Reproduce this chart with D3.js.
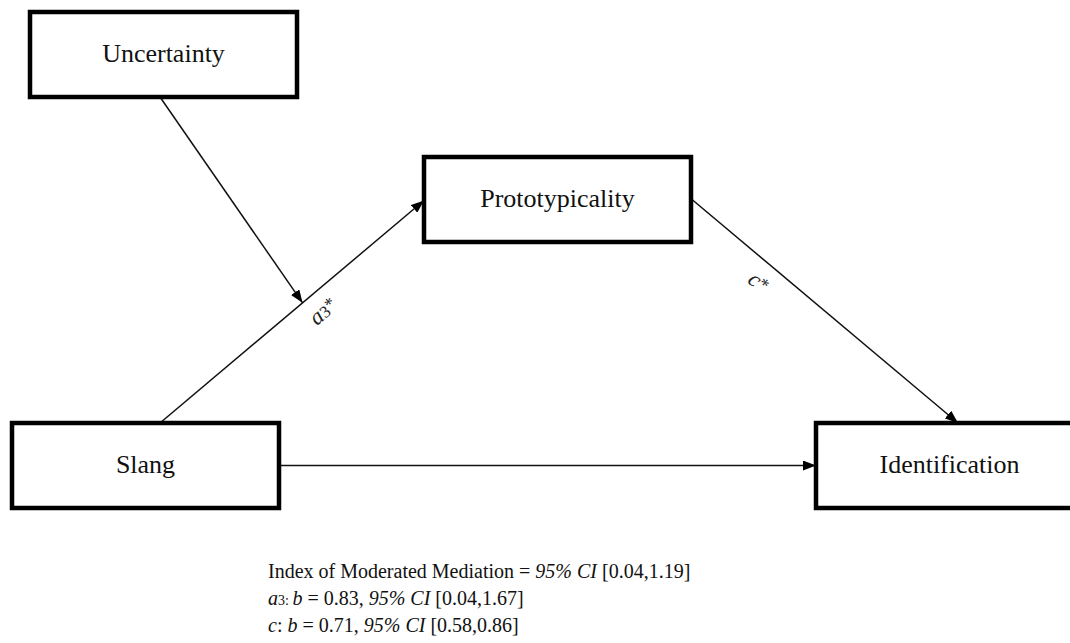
<!DOCTYPE html>
<html>
<head>
<meta charset="utf-8">
<script src="https://cdn.jsdelivr.net/npm/d3@7"></script>
<style>
  body { margin: 0; background: #fff; }
  svg { display: block; font-family: "Liberation Serif", "Times New Roman", serif; }
</style>
</head>
<body>
<div class="svg-div"></div>
<script>
// model variables
const nodeNames = ['Uncertainty', 'Prototypicality', 'Slang', 'Identification']
// paths: from -> to ; 'path:0' means the arrow points at path 0 (moderation)
const pathFrom = ['Slang', 'Prototypicality', 'Slang', 'Uncertainty']
const pathTo = ['Prototypicality', 'Identification', 'Identification', 'path:0']
const pathLabels = ['a3*', 'c*', '', '']
// results lines under the model
const noteLines = [
    [['Index of Moderated Mediation = ', 0], ['95% CI', 1], [' [0.04,1.19]', 0]],
    [['a', 1], ['3: ', 2], ['b', 1], [' = 0.83, ', 0], ['95% CI', 1], [' [0.04,1.67]', 0]],
    [['c', 1], [': ', 0], ['b', 1], [' = 0.71, ', 0], ['95% CI', 1], [' [0.58,0.86]', 0]]
]

// layout (grid units -> pixels)
const w = 1070
const h = 643
const boxW = 267
const boxH = 85
const grid = {
    Uncertainty: [0, 0],
    Prototypicality: [1, 1],
    Slang: [0, 2],
    Identification: [2, 2]
}
const colX = d3.scaleOrdinal().domain([0, 1, 2]).range([30, 424, 816])
const rowY = d3.scaleOrdinal().domain([0, 1, 2]).range([12, 157, 423])
const slangX = d3.scaleOrdinal().domain(['Slang']).range([12])

const svg = d3.select('.svg-div')
    .append('svg')
    .attr('width', w)
    .attr('height', h)

svg.append('defs').append('marker')
    .attr('id', 'arrow')
    .attr('viewBox', '0 0 13 10')
    .attr('refX', 13)
    .attr('refY', 5)
    .attr('markerWidth', 13)
    .attr('markerHeight', 10)
    .attr('markerUnits', 'userSpaceOnUse')
    .attr('orient', 'auto')
    .append('path')
    .attr('d', 'M0,0 L13,5 L0,10 Z')
    .attr('fill', '#000')

const boxes = nodeNames.map(name => {
    const g = grid[name]
    const x = name === 'Slang' ? slangX(name) : colX(g[0])
    const y = rowY(g[1])
    return { name, x, y, cx: x + boxW / 2, cy: y + boxH / 2 }
})
const byName = {}
boxes.forEach(b => byName[b.name] = b)

// anchor points of each path
function anchors(i) {
    const from = byName[pathFrom[i]]
    const to = pathTo[i]
    if (to.startsWith('path:')) {
        const p = anchors(+to.split(':')[1])
        const t = 0.54
        return [[from.x + 130, from.y + boxH], [p[0][0] + (p[1][0] - p[0][0]) * t, p[0][1] + (p[1][1] - p[0][1]) * t]]
    }
    const tb = byName[to]
    if (from.y > tb.y + boxH) return [[from.x + 148, from.y], [tb.x, tb.cy + 1]]
    if (tb.y > from.y + boxH) return [[from.x + boxW + 1, from.cy], [tb.x + 142, tb.y]]
    return [[from.x + boxW, from.cy], [tb.x, tb.cy]]
}

const paths = pathFrom.map((f, i) => ({ pts: anchors(i), label: pathLabels[i] }))

svg.selectAll('line.path')
    .data(paths)
    .enter()
    .append('line')
    .attr('class', 'path')
    .attr('x1', d => d.pts[0][0])
    .attr('y1', d => d.pts[0][1])
    .attr('x2', d => d.pts[1][0])
    .attr('y2', d => d.pts[1][1])
    .attr('stroke', '#111')
    .attr('stroke-width', 1.5)
    .attr('marker-end', 'url(#arrow)')

// path labels (rotated along the path, below it)
paths.forEach(p => {
    if (!p.label) return
    const [a, b] = p.pts
    const ang = Math.atan2(b[1] - a[1], b[0] - a[0]) * 180 / Math.PI
    const up = ang < 0
    const t0 = up ? 0.57 : 0.3
    const mx = a[0] + (b[0] - a[0]) * t0
    const my = a[1] + (b[1] - a[1]) * t0
    const t = svg.append('text')
        .attr('transform', 'translate(' + mx + ',' + my + ') rotate(' + ang + ') translate(0,' + (up ? 27 : 28) + ')')
        .attr('text-anchor', 'middle')
        .attr('font-size', 23)
        .attr('fill', '#222')
    t.append('tspan').attr('font-style', 'italic').text(p.label[0])
    if (p.label.length > 2) t.append('tspan').attr('font-size', 17).text(p.label.slice(1, -1))
    t.append('tspan').attr('font-size', 18).attr('dy', -3).text('*')
})

const nodeG = svg.selectAll('g.node')
    .data(boxes)
    .enter()
    .append('g')
    .attr('class', 'node')

nodeG.append('rect')
    .attr('x', d => d.x)
    .attr('y', d => d.y)
    .attr('width', boxW)
    .attr('height', boxH)
    .attr('fill', '#fff')
    .attr('stroke', '#000')
    .attr('stroke-width', 4.5)

nodeG.append('text')
    .attr('x', d => d.cx)
    .attr('y', d => d.cy)
    .attr('dy', '0.3em')
    .attr('text-anchor', 'middle')
    .attr('font-size', 26)
    .attr('fill', '#111')
    .text(d => d.name)

// result notes
const note = svg.append('g')
noteLines.forEach((line, i) => {
    const t = note.append('text')
        .attr('x', 268)
        .attr('y', 578 + i * 27)
        .attr('font-size', 20)
        .attr('fill', '#111')
    line.forEach(part => {
        const s = t.append('tspan').text(part[0])
        if (part[1] === 1) s.attr('font-style', 'italic')
        if (part[1] === 2) s.attr('font-size', 14)
    })
})
</script>
</body>
</html>
